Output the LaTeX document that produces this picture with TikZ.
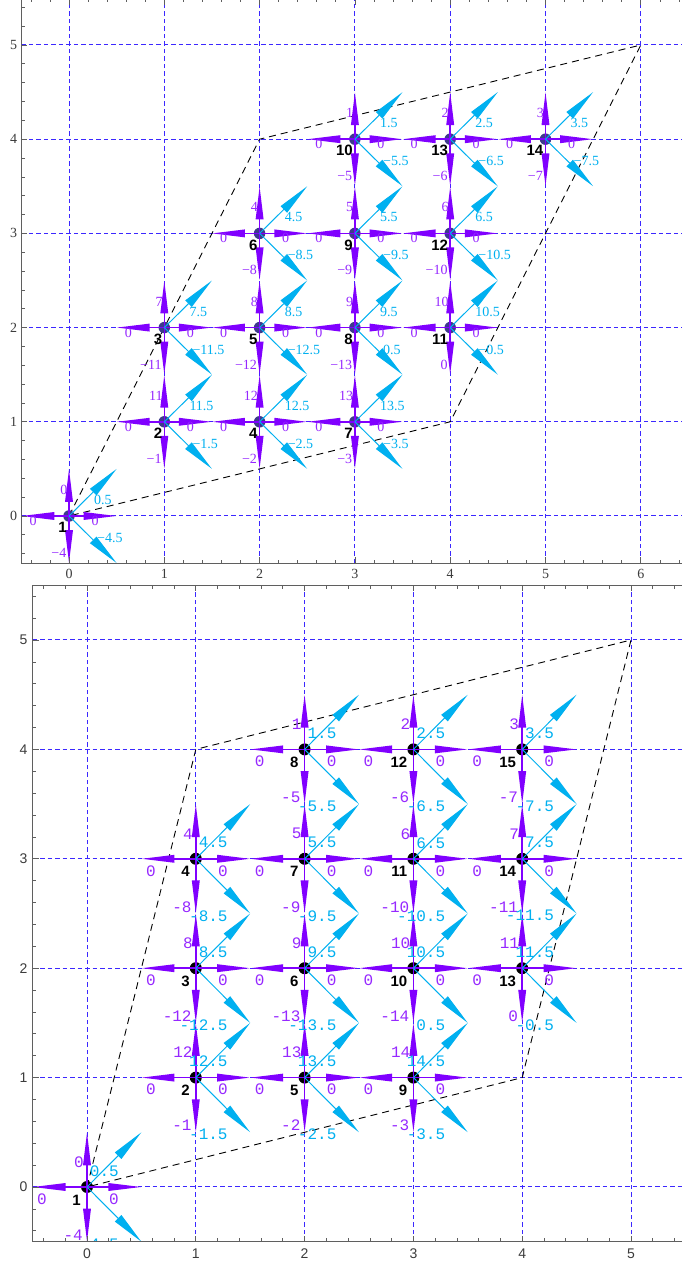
\documentclass[tikz,border=0pt]{standalone}
\usepackage{fontspec}
\setmainfont{Liberation Serif}
\setsansfont{Liberation Sans}
\setmonofont{Liberation Mono}
\usetikzlibrary{arrows.meta}

\definecolor{pv}{RGB}{128,0,255}
\definecolor{pvt}{RGB}{150,40,255}
\definecolor{cy}{RGB}{0,176,240}
\definecolor{gridb}{RGB}{60,40,255}
\definecolor{tnode}{RGB}{62,58,140}
\definecolor{axisg}{RGB}{95,95,95}
\definecolor{tickt}{RGB}{60,60,60}

\tikzset{
  parrow/.style={pv, line width=1.6pt, -{Triangle[length=33pt,width=7.5pt]}},
  carrow/.style={cy, line width=1pt, -{Triangle[length=33pt,width=9pt]}},
  gridl/.style={gridb, line width=1pt, dash pattern=on 4.5pt off 3pt},
  para/.style={black, line width=0.9pt, dash pattern=on 7pt off 5pt},
  frameline/.style={axisg, line width=0.9pt},
  tickline/.style={axisg, line width=0.7pt},
  tdot/.style={circle, fill=tnode, minimum size=11.5pt, inner sep=0pt},
  bdot/.style={circle, fill=black, minimum size=12pt, inner sep=0pt},
  tlab/.style={font=\fontsize{14}{14}\selectfont, inner sep=0pt},
  tpl/.style={tlab, text=pvt},
  tcl/.style={tlab, text=cy},
  tnum/.style={font=\sffamily\bfseries\fontsize{15}{15}\selectfont, inner sep=0pt},
  blab/.style={font=\ttfamily\fontsize{16}{16}\selectfont, inner sep=0pt},
  bpl/.style={blab, text=pvt},
  bcl/.style={blab, text=cy},
  bnum/.style={font=\sffamily\bfseries\fontsize{15}{15}\selectfont, inner sep=0pt},
  ttick/.style={font=\fontsize{14}{14}\selectfont, text=tickt, inner sep=0pt},
  btick/.style={font=\sffamily\fontsize{14}{14}\selectfont, text=tickt, inner sep=0pt}
}

\begin{document}
\begin{tikzpicture}
\useasboundingbox (0,0) rectangle (682pt,1266pt);
\fill[white] (0,0) rectangle (682pt,1266pt);

% ================= TOP PANEL =================
\begin{scope}[shift={(69pt,750pt)}, x=95.3pt, y=94.2pt]
  \begin{scope}
    \clip (-0.5,-0.5) rectangle (6.5,5.49);
    \foreach \i in {0,...,6} \draw[gridl] (\i,-0.5) -- (\i,5.5);
    \foreach \j in {0,...,5} \draw[gridl] (-0.5,\j) -- (6.5,\j);
    \coordinate (tA) at (0,0);
    \coordinate (tB) at (2,4);
    \coordinate (tC) at (6,5);
    \coordinate (tD) at (4,1);
    \draw[para] (tA) -- (tB) -- (tC) -- (tD) -- cycle;
    \foreach \nn/\x/\y/\vu/\vd/\vur/\vdr in {
      1/0/0/0/−4/0.5/−4.5,
      2/1/1/11/−1/11.5/−1.5,
      3/1/2/7/−11/7.5/−11.5,
      4/2/1/12/−2/12.5/−2.5,
      5/2/2/8/−12/8.5/−12.5,
      6/2/3/4/−8/4.5/−8.5,
      7/3/1/13/−3/13.5/−3.5,
      8/3/2/9/−13/9.5/0.5,
      9/3/3/5/−9/5.5/−9.5,
      10/3/4/1/−5/1.5/−5.5,
      11/4/2/10/0/10.5/−0.5,
      12/4/3/6/−10/6.5/−10.5,
      13/4/4/2/−6/2.5/−6.5,
      14/5/4/3/−7/3.5/−7.5}{
      \node[tdot] (t\nn) at (\x,\y) {};
      \draw[parrow] (t\nn.center) -- ++(0.5,0);
      \draw[parrow] (t\nn.center) -- ++(-0.5,0);
      \draw[parrow] (t\nn.center) -- ++(0,0.5);
      \draw[parrow] (t\nn.center) -- ++(0,-0.5);
      \draw[carrow] (t\nn.center) -- ++(0.5,0.5);
      \draw[carrow] (t\nn.center) -- ++(0.5,-0.5);
      \node[tpl, anchor=east, xshift=-1.5pt, yshift=26pt] (tu\nn) at (t\nn.center) {\vu};
      \node[tpl, anchor=east, xshift=-2.5pt, yshift=-37pt] (td\nn) at (t\nn.center) {\vd};
      \node[tpl, xshift=-36pt, yshift=-5pt] (tl\nn) at (t\nn.center) {0};
      \node[tpl, xshift=26pt, yshift=-5pt] (tr\nn) at (t\nn.center) {0};
      \node[tcl, anchor=west, xshift=25pt, yshift=16pt] (tur\nn) at (t\nn.center) {\vur};
      \node[tcl, anchor=west, xshift=28pt, yshift=-22pt] (tdr\nn) at (t\nn.center) {\vdr};
      \node[tnum, anchor=north east, xshift=-2pt, yshift=-6pt] (tn\nn) at (t\nn.center) {\nn};
    }
  \end{scope}
  % frame
  \draw[frameline] (6.6,-0.5) -- (-0.5,-0.5) -- (-0.5,5.49) -- (6.6,5.49);
  \foreach \k in {-2,...,32} {
    \draw[tickline] ({\k/5},-0.5) -- ++(0,3.5pt);
    \draw[tickline] ({\k/5},5.49) -- ++(0,-3.5pt);
  }
  \foreach \k in {-2,...,27} {
    \draw[tickline] (-0.5,{\k/5}) -- ++(3.5pt,0);
  }
  \foreach \i in {0,...,6} {
    \draw[tickline] (\i,-0.5) -- ++(0,6pt);
    \draw[tickline] (\i,5.49) -- ++(0,-6pt);
    \node[ttick, anchor=north, yshift=-6pt] (tx\i) at (\i,-0.5) {\i};
  }
  \foreach \j in {0,...,5} {
    \draw[tickline] (-0.5,\j) -- ++(6pt,0);
    \node[ttick, anchor=east, xshift=-4pt] (ty\j) at (-0.5,\j) {\j};
  }
\end{scope}

% ================= BOTTOM PANEL =================
\begin{scope}[shift={(87pt,79pt)}, x=108.8pt, y=109.4pt]
  \begin{scope}
    \clip (-0.5,-0.5) rectangle (5.6,5.5);
    \foreach \i in {0,...,5} \draw[gridl] (\i,-0.5) -- (\i,5.5);
    \foreach \j in {0,...,5} \draw[gridl] (-0.5,\j) -- (5.6,\j);
    \coordinate (bA) at (0,0);
    \coordinate (bB) at (1,4);
    \coordinate (bC) at (5,5);
    \coordinate (bD) at (4,1);
    \draw[para] (bA) -- (bB) -- (bC) -- (bD) -- cycle;
    \foreach \nn/\x/\y/\vu/\vd/\vur/\vdr in {
      1/0/0/0/-4/0.5/-4.5,
      2/1/1/12/-1/12.5/-1.5,
      3/1/2/8/-12/8.5/-12.5,
      4/1/3/4/-8/4.5/-8.5,
      5/2/1/13/-2/13.5/-2.5,
      6/2/2/9/-13/9.5/-13.5,
      7/2/3/5/-9/5.5/-9.5,
      8/2/4/1/-5/1.5/-5.5,
      9/3/1/14/-3/14.5/-3.5,
      10/3/2/10/-14/10.5/0.5,
      11/3/3/6/-10/6.5/-10.5,
      12/3/4/2/-6/2.5/-6.5,
      13/4/2/11/0/11.5/-0.5,
      14/4/3/7/-11/7.5/-11.5,
      15/4/4/3/-7/3.5/-7.5}{
      \node[bdot] (b\nn) at (\x,\y) {};
      \draw[parrow] (b\nn.center) -- ++(0.5,0);
      \draw[parrow] (b\nn.center) -- ++(-0.5,0);
      \draw[parrow] (b\nn.center) -- ++(0,0.5);
      \draw[parrow] (b\nn.center) -- ++(0,-0.5);
      \draw[carrow] (b\nn.center) -- ++(0.5,0.5);
      \draw[carrow] (b\nn.center) -- ++(0.5,-0.5);
      \node[bpl, anchor=east, xshift=-3pt, yshift=25pt] (bu\nn) at (b\nn.center) {\vu};
      \node[bpl, anchor=east, xshift=-4pt, yshift=-48pt] (bd\nn) at (b\nn.center) {\vd};
      \node[bpl, xshift=-45pt, yshift=-12pt] (bl\nn) at (b\nn.center) {0};
      \node[bpl, xshift=27pt, yshift=-12pt] (br\nn) at (b\nn.center) {0};
      \node[bcl, anchor=east, xshift=32pt, yshift=16pt] (bur\nn) at (b\nn.center) {\vur};
      \node[bcl, anchor=east, xshift=32pt, yshift=-57pt] (bdr\nn) at (b\nn.center) {\vdr};
      \node[bnum, anchor=east, xshift=-6pt, yshift=-13pt] (bn\nn) at (b\nn.center) {\nn};
    }
  \end{scope}
  % frame
  \draw[frameline] (5.6,-0.5) -- (-0.5,-0.5) -- (-0.5,5.5) -- (5.6,5.5);
  \foreach \k in {-2,...,28} {
    \draw[tickline] ({\k/5},-0.5) -- ++(0,3.5pt);
    \draw[tickline] ({\k/5},5.5) -- ++(0,-3.5pt);
  }
  \foreach \k in {-2,...,27} {
    \draw[tickline] (-0.5,{\k/5}) -- ++(3.5pt,0);
  }
  \foreach \i in {0,...,5} {
    \draw[tickline] (\i,-0.5) -- ++(0,6pt);
    \draw[tickline] (\i,5.5) -- ++(0,-6pt);
    \node[btick, anchor=north, yshift=-7pt] (bx\i) at (\i,-0.5) {\i};
  }
  \foreach \j in {0,...,5} {
    \draw[tickline] (-0.5,\j) -- ++(6pt,0);
    \node[btick, anchor=east, xshift=-5pt] (by\j) at (-0.5,\j) {\j};
  }
\end{scope}
\end{tikzpicture}
\end{document}
